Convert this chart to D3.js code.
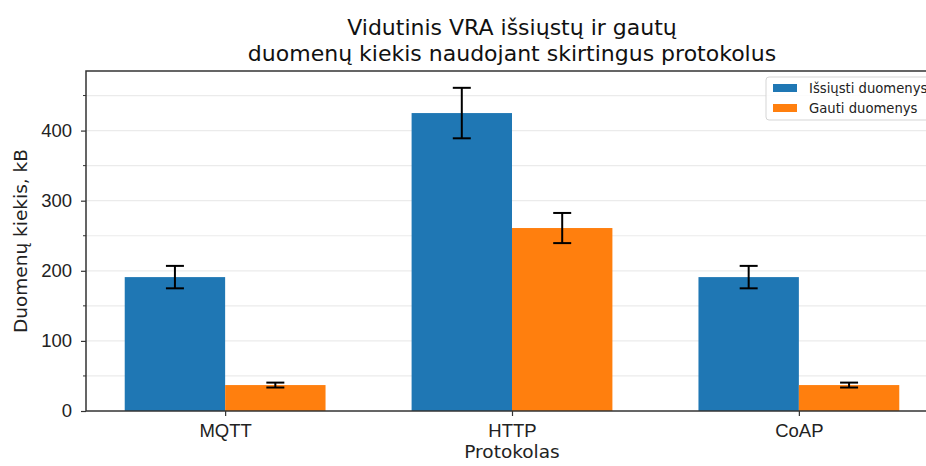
<!DOCTYPE html>
<html>
<head>
<meta charset="utf-8">
<script src="https://cdn.jsdelivr.net/npm/d3@7"></script>
<style>
  body { margin: 0; background: #fff; }
  svg { display: block; font-family: "DejaVu Sans", sans-serif; }
</style>
</head>
<body>
<svg id="chart"></svg>
<script>
// data
const protocols = ["MQTT", "HTTP", "CoAP"];
const sentMean = [191, 425, 191];
const sentErr = [16, 36, 16];
const recvMean = [37, 261, 37];
const recvErr = [3.5, 21.5, 3.5];
const seriesNames = ["Išsiųsti duomenys", "Gauti duomenys"];
const yTicks = [0, 100, 200, 300, 400];

const width = 926, height = 466;
const margin = {top: 71, right: -12, bottom: 55, left: 86};
const barW = 0.35;
const colors = ["#1f77b4", "#ff7f0e"];

const svg = d3.select("#chart").attr("width", width).attr("height", height);

const x = d3.scaleLinear()
  .domain([-0.485, 2.485])
  .range([margin.left, width - margin.right]);

const y = d3.scaleLinear()
  .domain([0, 485])
  .range([height - margin.bottom, margin.top]);

const plot = svg.append("g");

// grid (major + minor)
const gridVals = d3.range(50, 485, 50);
plot.append("g")
  .selectAll("line")
  .data(gridVals)
  .join("line")
    .attr("x1", x.range()[0]).attr("x2", x.range()[1])
    .attr("y1", d => y(d)).attr("y2", d => y(d))
    .attr("stroke", "#ebebeb")
    .attr("stroke-width", 1.2);

const series = [
  {mean: sentMean, err: sentErr, off: -barW, color: colors[0]},
  {mean: recvMean, err: recvErr, off: 0, color: colors[1]}
];

series.forEach(s => {
  const g = plot.append("g");
  g.selectAll("rect")
    .data(protocols)
    .join("rect")
      .attr("x", (d, i) => x(i + s.off))
      .attr("width", x(barW) - x(0))
      .attr("y", (d, i) => y(s.mean[i]))
      .attr("height", (d, i) => y(0) - y(s.mean[i]))
      .attr("fill", s.color);
});

series.forEach(s => {
  const eb = plot.append("g").attr("stroke", "#000").attr("stroke-width", 2);
  protocols.forEach((p, i) => {
    const cx = x(i + s.off + barW / 2);
    const lo = y(s.mean[i] - s.err[i]), hi = y(s.mean[i] + s.err[i]);
    eb.append("line").attr("x1", cx).attr("x2", cx).attr("y1", lo).attr("y2", hi);
    eb.append("line").attr("x1", cx - 9).attr("x2", cx + 9).attr("y1", lo).attr("y2", lo);
    eb.append("line").attr("x1", cx - 9).attr("x2", cx + 9).attr("y1", hi).attr("y2", hi);
  });
});

// axes
const xAxis = d3.axisBottom(x)
  .tickValues([0, 1, 2])
  .tickFormat(i => protocols[i])
  .tickSizeOuter(0)
  .tickSize(5)
  .tickPadding(8);

const yAxis = d3.axisLeft(y)
  .tickValues(yTicks)
  .tickSizeOuter(0)
  .tickSize(5)
  .tickPadding(9);

const gx = svg.append("g")
  .attr("transform", `translate(0,${y(0)})`)
  .call(xAxis);
const gy = svg.append("g")
  .attr("transform", `translate(${x.range()[0]},0)`)
  .call(yAxis);

// minor ticks
gy.append("g").selectAll("line")
  .data(d3.range(50, 485, 100))
  .join("line")
    .attr("x1", -3).attr("x2", 0)
    .attr("y1", d => y(d)).attr("y2", d => y(d))
    .attr("stroke", "#333").attr("stroke-width", 1);

[gx, gy].forEach(g => {
  g.select(".domain").remove();
  g.selectAll(".tick line").attr("stroke", "#333").attr("stroke-width", 1.2);
  g.selectAll(".tick text").attr("fill", "#222").style("font-size", "18.5px");
});

// frame
svg.append("rect")
  .attr("x", x.range()[0]).attr("y", y.range()[1])
  .attr("width", x.range()[1] - x.range()[0])
  .attr("height", y.range()[0] - y.range()[1])
  .attr("fill", "none")
  .attr("stroke", "#333")
  .attr("stroke-width", 1.5);

// titles
const title = svg.append("text")
  .attr("text-anchor", "middle")
  .attr("fill", "#111")
  .style("font-size", "22px");
title.append("tspan").attr("x", 512).attr("y", 35).text("Vidutinis VRA išsiųstų ir gautų");
title.append("tspan").attr("x", 512).attr("y", 61).text("duomenų kiekis naudojant skirtingus protokolus");

svg.append("text")
  .attr("x", 512).attr("y", 458)
  .attr("text-anchor", "middle")
  .attr("fill", "#222")
  .style("font-size", "18.5px")
  .text("Protokolas");

svg.append("text")
  .attr("transform", `translate(27,${(y.range()[0] + y.range()[1]) / 2}) rotate(-90)`)
  .attr("text-anchor", "middle")
  .attr("fill", "#222")
  .style("font-size", "18.5px")
  .text("Duomenų kiekis, kB");

// legend
const lg = svg.append("g").attr("transform", "translate(766,77)");
lg.append("rect")
  .attr("width", 166).attr("height", 43).attr("rx", 3)
  .attr("fill", "#fff").attr("fill-opacity", 0.85)
  .attr("stroke", "#d5d5d5");
seriesNames.forEach((n, i) => {
  lg.append("rect")
    .attr("x", 7).attr("y", 7 + i * 20)
    .attr("width", 24).attr("height", 8)
    .attr("fill", colors[i]);
  lg.append("text")
    .attr("x", 43).attr("y", 16 + i * 20)
    .attr("fill", "#222")
    .style("font-size", "13.2px")
    .text(n);
});
</script>
</body>
</html>
